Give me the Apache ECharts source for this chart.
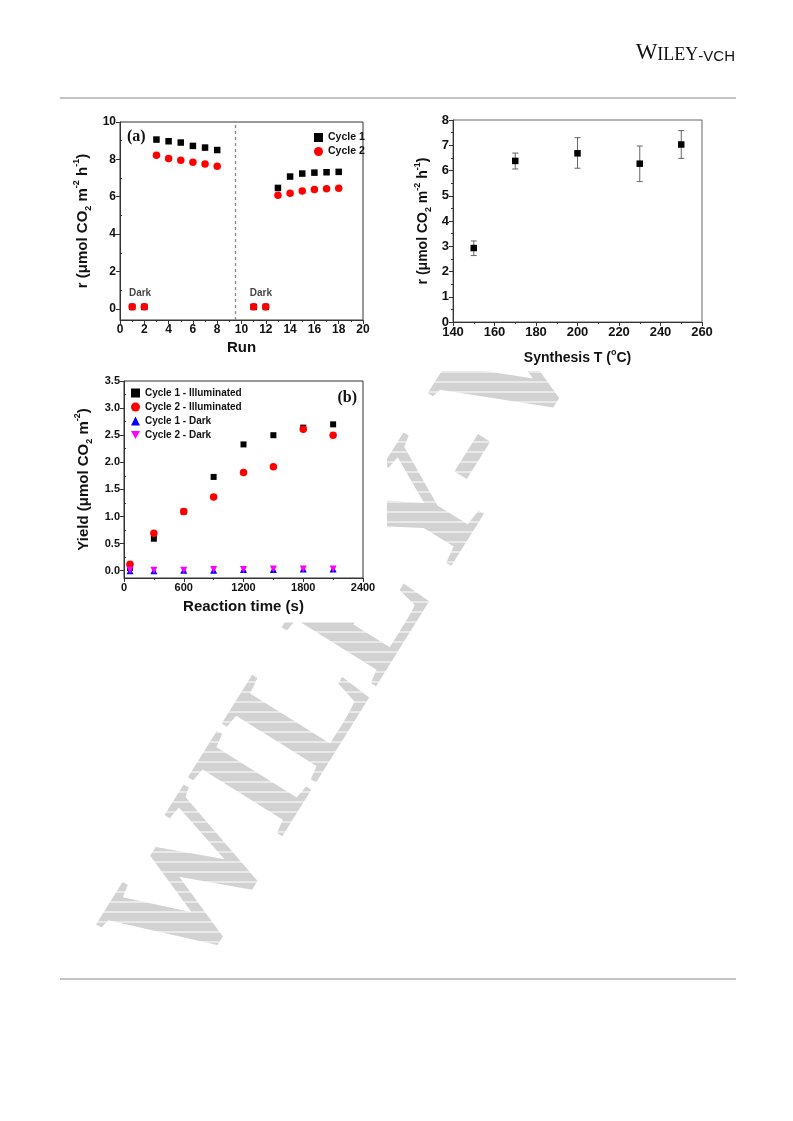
<!DOCTYPE html>
<html>
<head>
<meta charset="utf-8">
<script src="https://cdn.jsdelivr.net/npm/echarts@6/dist/echarts.min.js"></script>
<style>
html,body{margin:0;padding:0;background:#fff;}
#main{width:793px;height:1121px;}
</style>
</head>
<body>
<div id="main"></div>
<script>
// ---------- Data: panel (a) ----------
const runs = [1, 2, 3, 4, 5, 6, 7, 8, 11, 12, 13, 14, 15, 16, 17, 18];
const cycle1Rate = [0.10, 0.10, 9.06, 8.97, 8.90, 8.72, 8.63, 8.50, 0.10, 0.10, 6.47, 7.08, 7.24, 7.29, 7.31, 7.33];
const cycle2Rate = [0.11, 0.11, 8.22, 8.04, 7.95, 7.84, 7.75, 7.63, 0.11, 0.11, 6.08, 6.19, 6.31, 6.38, 6.43, 6.45];
const dividerRun = 9.5;
const darkNoteRuns = [1.65, 11.6];
const darkNoteRate = [0.85, 0.85];
const rateTicksA = [0, 2, 4, 6, 8, 10];
const rateMinorA = [1, 3, 5, 7, 9];

// ---------- Data: synthesis temperature panel ----------
const synthT = [150, 170, 200, 230, 250];
const synthRate = [2.93, 6.38, 6.68, 6.27, 7.03];
const synthLow = [2.63, 6.06, 6.09, 5.56, 6.48];
const synthHigh = [3.21, 6.69, 7.30, 6.97, 7.58];

// ---------- Data: panel (b) ----------
const times = [60, 300, 600, 900, 1200, 1500, 1800, 2100];
const c1Illum = [0.05, 0.59, 1.09, 1.73, 2.33, 2.50, 2.64, 2.70];
const c2Illum = [0.12, 0.69, 1.09, 1.36, 1.81, 1.92, 2.61, 2.50];
const c1Dark = [0.00, 0.00, 0.01, 0.01, 0.02, 0.02, 0.03, 0.03];
const c2Dark = [0.01, 0.01, 0.01, 0.02, 0.02, 0.03, 0.03, 0.03];
const yieldTicks = [0, 0.5, 1.0, 1.5, 2.0, 2.5, 3.0, 3.5];
const yieldMinor = [0.25, 0.75, 1.25, 1.75, 2.25, 2.75, 3.25];

const pair = (xs, ys) => xs.map((x, i) => [x, ys[i]]);

const SANS = '"Liberation Sans", Arial, sans-serif';
const SERIF = '"Liberation Serif", "Times New Roman", serif';
const AX = '#333';
const INV_TRI = 'path://M0,0 L10,0 L5,9 Z';

function richTitle(size) {
  return {
    n: {fontSize: size, fontWeight: 'bold', fontFamily: SANS, color: '#111', lineHeight: size + 6},
    sub: {fontSize: Math.round(size * 0.62), fontWeight: 'bold', fontFamily: SANS, color: '#111', lineHeight: 8, verticalAlign: 'bottom'},
    sup: {fontSize: Math.round(size * 0.62), fontWeight: 'bold', fontFamily: SANS, color: '#111', lineHeight: 8, verticalAlign: 'top'}
  };
}

function baseAxis(o) {
  return Object.assign({
    type: 'value',
    splitLine: {show: false},
    axisLine: {show: true, onZero: false, lineStyle: {color: AX, width: 1}},
    axisTick: {show: true, inside: false, length: 4, lineStyle: {color: AX}},
    minorTick: {show: true, splitNumber: 2, length: 2, lineStyle: {color: AX}},
    axisLabel: {color: '#111', fontWeight: 'bold', fontFamily: SANS, fontSize: 12, margin: 4},
    nameLocation: 'middle'
  }, o);
}

// watermark hatch: white horizontal rules drawn over the grey letters (invisible on white page)
const hatch = [];
for (let y = 372; y <= 1000; y += 10) {
  hatch.push({type: 'line', z: -15, silent: true, shape: {x1: 60, y1: y, x2: 793, y2: y},
    style: {stroke: '#fff', lineWidth: 1.2}});
}

const chart = echarts.init(document.getElementById('main'), null, {renderer: 'canvas'});

const option = {
  backgroundColor: '#fff',
  animation: false,
  grid: [
    {left: 120, top: 122, width: 243, height: 198, show: true, borderColor: AX, borderWidth: 1, backgroundColor: '#fff'},
    {left: 453, top: 120, width: 249, height: 202, show: true, borderColor: '#666', borderWidth: 1, backgroundColor: '#fff'},
    {left: 124, top: 381, width: 239, height: 197, show: true, borderColor: AX, borderWidth: 1, backgroundColor: '#fff'}
  ],
  xAxis: [
    baseAxis({gridIndex: 0, min: 0, max: 20, interval: 2,
      name: 'Run', nameGap: 20,
      nameTextStyle: {fontSize: 15, fontWeight: 'bold', fontFamily: SANS, color: '#111'}}),
    baseAxis({gridIndex: 1, min: 140, max: 260, interval: 20,
      axisLabel: {color: '#111', fontWeight: 'bold', fontFamily: SANS, fontSize: 13, margin: 4},
      name: '{n|Synthesis T (}{sup|o}{n|C)}', nameGap: 26,
      nameTextStyle: {rich: richTitle(14)}}),
    baseAxis({gridIndex: 2, min: 0, max: 2400, interval: 600,
      axisLabel: {color: '#111', fontWeight: 'bold', fontFamily: SANS, fontSize: 11, margin: 4,
        formatter: v => String(v)},
      name: 'Reaction time (s)', nameGap: 21,
      nameTextStyle: {fontSize: 15, fontWeight: 'bold', fontFamily: SANS, color: '#111'}})
  ],
  yAxis: [
    baseAxis({gridIndex: 0, min: -0.6, max: 10,
      axisTick: {show: true, length: 4, customValues: rateTicksA, lineStyle: {color: AX}},
      minorTick: {show: false},
      axisLabel: {color: '#111', fontWeight: 'bold', fontFamily: SANS, fontSize: 12, margin: 4, customValues: rateTicksA},
      name: '{n|r (μmol CO}{sub|2}{n| m}{sup|-2}{n| h}{sup|-1}{n|)}', nameGap: 27,
      nameTextStyle: {rich: richTitle(15)}}),
    baseAxis({gridIndex: 0, min: -0.6, max: 10,
      axisLine: {show: false},
      axisTick: {show: true, length: 2, customValues: rateMinorA, lineStyle: {color: AX}},
      minorTick: {show: false},
      axisLabel: {show: false}}),
    baseAxis({gridIndex: 1, min: 0, max: 8, interval: 1,
      axisLabel: {color: '#111', fontWeight: 'bold', fontFamily: SANS, fontSize: 13, margin: 4},
      name: '{n|r (μmol CO}{sub|2}{n| m}{sup|-2}{n| h}{sup|-1}{n|)}', nameGap: 20,
      nameTextStyle: {rich: richTitle(14)}}),
    baseAxis({gridIndex: 2, min: -0.135, max: 3.5,
      axisTick: {show: true, length: 4, customValues: yieldTicks, lineStyle: {color: AX}},
      minorTick: {show: false},
      axisLabel: {color: '#111', fontWeight: 'bold', fontFamily: SANS, fontSize: 11, margin: 4,
        customValues: yieldTicks, formatter: v => v.toFixed(1)},
      name: '{n|Yield (μmol CO}{sub|2}{n| m}{sup|-2}{n|)}', nameGap: 30,
      nameTextStyle: {rich: richTitle(15)}}),
    baseAxis({gridIndex: 2, min: -0.135, max: 3.5,
      axisLine: {show: false},
      axisTick: {show: true, length: 2, customValues: yieldMinor, lineStyle: {color: AX}},
      minorTick: {show: false},
      axisLabel: {show: false}})
  ],
  legend: [
    {left: 309, top: 127, orient: 'vertical', itemWidth: 9, itemHeight: 9, itemGap: 3,
      selectedMode: false,
      textStyle: {fontSize: 10.5, fontWeight: 'bold', fontFamily: SANS, color: '#111', lineHeight: 10},
      data: [{name: 'Cycle 1', icon: 'rect'}, {name: 'Cycle 2', icon: 'circle'}]},
    {left: 126, top: 383, orient: 'vertical', itemWidth: 9, itemHeight: 9, itemGap: 4,
      selectedMode: false,
      textStyle: {fontSize: 10, fontWeight: 'bold', fontFamily: SANS, color: '#111', lineHeight: 10},
      data: [{name: 'Cycle 1 - Illuminated', icon: 'rect'}, {name: 'Cycle 2 - Illuminated', icon: 'circle'},
             {name: 'Cycle 1 - Dark', icon: 'triangle'}, {name: 'Cycle 2 - Dark', icon: INV_TRI}]}
  ],
  series: [
    {name: 'Cycle 1', type: 'scatter', xAxisIndex: 0, yAxisIndex: 0, symbol: 'rect', symbolSize: 6.5,
      itemStyle: {color: '#000', opacity: 1}, data: pair(runs, cycle1Rate),
      markLine: {silent: true, symbol: 'none', label: {show: false},
        lineStyle: {type: [3, 3], color: '#888', width: 1.3}, data: [{xAxis: dividerRun}]}},
    {name: 'Cycle 2', type: 'scatter', xAxisIndex: 0, yAxisIndex: 0, symbol: 'circle', symbolSize: 7.5,
      itemStyle: {color: '#ff0000', opacity: 1}, data: pair(runs, cycle2Rate)},
    {name: 'darkNotes', type: 'scatter', xAxisIndex: 0, yAxisIndex: 0, symbolSize: 0, silent: true,
      label: {show: true, position: 'inside', formatter: 'Dark', fontSize: 10, fontWeight: 'bold', fontFamily: SANS, color: '#111'},
      data: pair(darkNoteRuns, darkNoteRate)},
    {name: 'synthErr', type: 'custom', xAxisIndex: 1, yAxisIndex: 2, silent: true,
      data: synthT.map((t, i) => [t, synthLow[i], synthHigh[i]]),
      encode: {x: 0, y: [1, 2]},
      renderItem: function (params, api) {
        const lo = api.coord([api.value(0), api.value(1)]);
        const hi = api.coord([api.value(0), api.value(2)]);
        const w = 3;
        const st = {stroke: '#666', lineWidth: 1};
        return {type: 'group', children: [
          {type: 'line', shape: {x1: lo[0], y1: lo[1], x2: hi[0], y2: hi[1]}, style: st},
          {type: 'line', shape: {x1: lo[0] - w, y1: lo[1], x2: lo[0] + w, y2: lo[1]}, style: st},
          {type: 'line', shape: {x1: hi[0] - w, y1: hi[1], x2: hi[0] + w, y2: hi[1]}, style: st}
        ]};
      }},
    {name: 'synthRate', type: 'scatter', xAxisIndex: 1, yAxisIndex: 2, symbol: 'rect', symbolSize: 6.5,
      itemStyle: {color: '#000', opacity: 1}, data: pair(synthT, synthRate), z: 5},
    {name: 'Cycle 1 - Illuminated', type: 'scatter', xAxisIndex: 2, yAxisIndex: 3, symbol: 'rect', symbolSize: 6,
      itemStyle: {color: '#000', opacity: 1}, data: pair(times, c1Illum)},
    {name: 'Cycle 2 - Illuminated', type: 'scatter', xAxisIndex: 2, yAxisIndex: 3, symbol: 'circle', symbolSize: 7.5,
      itemStyle: {color: '#ff0000', opacity: 1}, data: pair(times, c2Illum)},
    {name: 'Cycle 1 - Dark', type: 'scatter', xAxisIndex: 2, yAxisIndex: 3, symbol: 'triangle', symbolSize: 7,
      itemStyle: {color: '#0000ff', opacity: 1}, data: pair(times, c1Dark)},
    {name: 'Cycle 2 - Dark', type: 'scatter', xAxisIndex: 2, yAxisIndex: 3, symbol: INV_TRI, symbolSize: 7,
      itemStyle: {color: '#ff00ff', opacity: 1}, data: pair(times, c2Dark)}
  ],
  graphic: [
    {type: 'text', z: -20, x: 152, y: 962, rotation: 58 * Math.PI / 180, silent: true,
      style: {text: 'WILEY-VCH', font: 'bold 170px ' + SERIF, fill: '#d2d2d2', align: 'left', verticalAlign: 'middle'}}
  ].concat(hatch).concat([
    {type: 'rect', z: -10, silent: true, shape: {x: 0, y: 0, width: 793, height: 104}, style: {fill: '#fff'}},
    {type: 'rect', z: -10, silent: true, shape: {x: 73, y: 104, width: 312, height: 260}, style: {fill: '#fff'}},
    {type: 'rect', z: -10, silent: true, shape: {x: 73, y: 370, width: 314, height: 252}, style: {fill: '#fff'}},
    {type: 'rect', z: -10, silent: true, shape: {x: 395, y: 0, width: 398, height: 371}, style: {fill: '#fff'}},
    {type: 'rect', silent: true, shape: {x: 60, y: 97, width: 676, height: 2}, style: {fill: '#c4c4c4'}},
    {type: 'rect', silent: true, shape: {x: 60, y: 978, width: 676, height: 2}, style: {fill: '#c4c4c4'}},
    {type: 'text', silent: true, x: 735, y: 64,
      style: {text: '{a|W}{b|ILEY}{c|-VCH}', align: 'right', verticalAlign: 'bottom',
        rich: {
          a: {fontFamily: SERIF, fontSize: 23, fill: '#111', verticalAlign: 'bottom', lineHeight: 22},
          b: {fontFamily: SERIF, fontSize: 18, fill: '#111', verticalAlign: 'bottom', lineHeight: 18},
          c: {fontFamily: SANS, fontSize: 15, fill: '#111', verticalAlign: 'bottom', lineHeight: 17}
        }}},
    {type: 'text', silent: true, x: 127, y: 137,
      style: {text: '(a)', font: 'bold 16px ' + SERIF, fill: '#111', align: 'left', verticalAlign: 'middle'}},
    {type: 'text', silent: true, x: 357, y: 398,
      style: {text: '(b)', font: 'bold 16px ' + SERIF, fill: '#111', align: 'right', verticalAlign: 'middle'}}
  ])
};

chart.setOption(option);
</script>
</body>
</html>
